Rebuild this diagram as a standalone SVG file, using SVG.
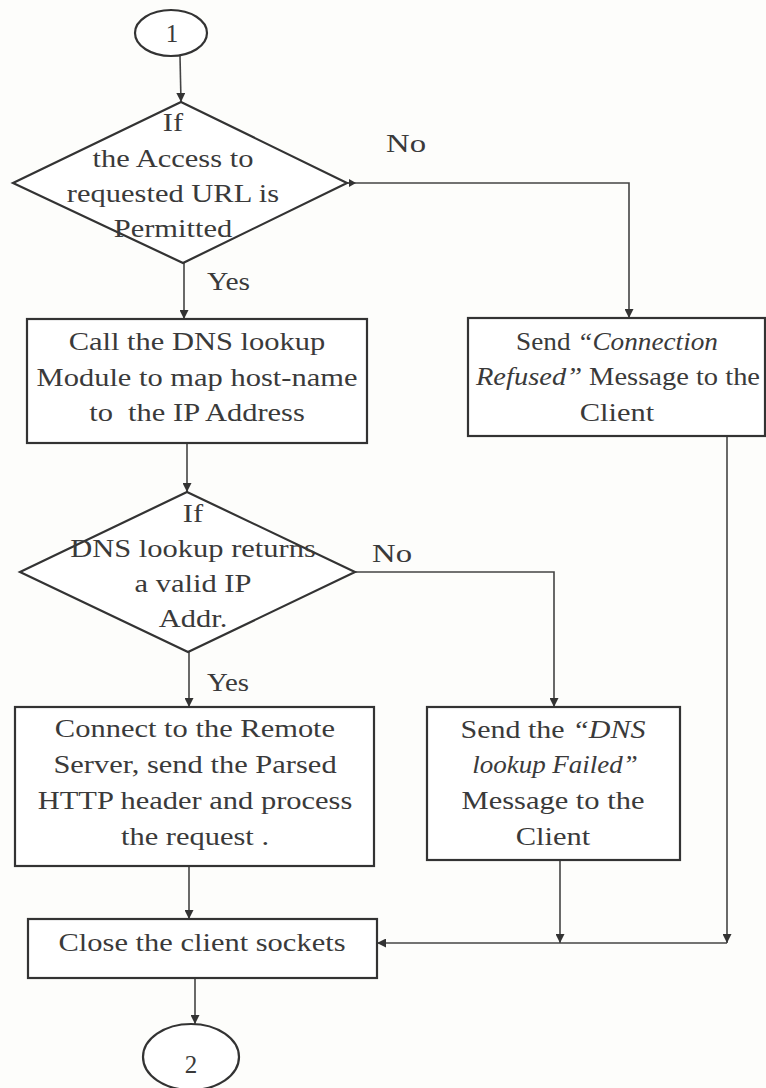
<svg xmlns="http://www.w3.org/2000/svg" width="766" height="1088" viewBox="0 0 766 1088">
  <defs>
    <marker id="arrow" viewBox="0 0 10 10" refX="10" refY="5" markerWidth="9" markerHeight="9" markerUnits="userSpaceOnUse" orient="auto">
      <path d="M0,0 L10,5 L0,10 z" fill="#333"/>
    </marker>
    <style>
      .shape { fill: #fff; stroke: #333; stroke-width: 2.2; }
      .edge { fill: none; stroke: #444; stroke-width: 1.6; }
      .t { font-family: "Liberation Serif", "Times New Roman", serif; font-size: 25px; fill: #3a3a3a; text-anchor: middle; }
      .lbl { font-family: "Liberation Serif", "Times New Roman", serif; font-size: 25px; fill: #3a3a3a; }
      .i { font-style: italic; }
    </style>
  </defs>

  <rect width="766" height="1088" fill="#fdfdfb"/>

  <!-- connectors -->
  <g id="connectors">
    <line class="edge" x1="180" y1="56" x2="181" y2="102" marker-end="url(#arrow)"/>
    <polyline class="edge" points="347,183 629,183 629,318" marker-end="url(#arrow)"/>
    <path d="M349,179 L356,183 L349,187 z" fill="#333"/>
    <line class="edge" x1="184" y1="263" x2="184" y2="319" marker-end="url(#arrow)"/>
    <line class="edge" x1="187" y1="443" x2="187" y2="492" marker-end="url(#arrow)"/>
    <polyline class="edge" points="355,572 554,572 554,707" marker-end="url(#arrow)"/>
    <line class="edge" x1="189" y1="652" x2="189" y2="707" marker-end="url(#arrow)"/>
    <line class="edge" x1="189" y1="866" x2="189" y2="919" marker-end="url(#arrow)"/>
    <line class="edge" x1="560" y1="860" x2="560" y2="943" marker-end="url(#arrow)"/>
    <line class="edge" x1="727" y1="436" x2="727" y2="943" marker-end="url(#arrow)"/>
    <line class="edge" x1="727" y1="943" x2="377" y2="943" marker-end="url(#arrow)"/>
    <line class="edge" x1="195" y1="978" x2="195" y2="1024" marker-end="url(#arrow)"/>
    <text class="lbl" x="386" y="152" textLength="40" lengthAdjust="spacingAndGlyphs">No</text>
    <text class="lbl" x="207" y="290" textLength="43" lengthAdjust="spacingAndGlyphs">Yes</text>
    <text class="lbl" x="372" y="562" textLength="40" lengthAdjust="spacingAndGlyphs">No</text>
    <text class="lbl" x="207" y="691" textLength="42" lengthAdjust="spacingAndGlyphs">Yes</text>
  </g>

  <!-- start connector 1 -->
  <g id="start">
    <ellipse class="shape" cx="171" cy="33" rx="36" ry="23"/>
    <text class="t" x="172" y="42">1</text>
  </g>

  <!-- access check -->
  <g id="access-check">
    <polygon class="shape" points="181,102 347,183 183,263 13,183"/>
    <g transform="translate(173 0) scale(1.22 1)">
      <text class="t" x="0" y="131">If</text>
      <text class="t" x="0" y="167">the Access to</text>
      <text class="t" x="0" y="202">requested URL is</text>
      <text class="t" x="0" y="237">Permitted</text>
    </g>
  </g>

  <!-- DNS lookup call -->
  <g id="dns-call">
    <rect class="shape" x="27" y="319" width="340" height="124"/>
    <g transform="translate(197 0) scale(1.22 1)">
      <text class="t" x="0" y="350">Call the DNS lookup</text>
      <text class="t" x="0" y="386">Module to map host-name</text>
      <text class="t" x="0" y="421" xml:space="preserve">to  the IP Address</text>
    </g>
  </g>

  <!-- connection refused -->
  <g id="conn-refused">
    <rect class="shape" x="468" y="318" width="297" height="118"/>
    <g transform="translate(617 0) scale(1.09 1)">
      <text class="t" x="0" y="350">Send <tspan class="i">“Connection</tspan></text>
    </g>
    <g transform="translate(618 0) scale(1.14 1)">
      <text class="t" x="0" y="385"><tspan class="i">Refused”</tspan> Message to the</text>
    </g>
    <g transform="translate(617 0) scale(1.22 1)">
      <text class="t" x="0" y="421">Client</text>
    </g>
  </g>

  <!-- DNS result check -->
  <g id="dns-check">
    <polygon class="shape" points="187,492 355,572 188,652 20,572"/>
    <g transform="translate(193 0) scale(1.22 1)">
      <text class="t" x="0" y="522">If</text>
      <text class="t" x="0" y="557">DNS lookup returns</text>
      <text class="t" x="0" y="592">a valid IP</text>
      <text class="t" x="0" y="627">Addr.</text>
    </g>
  </g>

  <!-- connect and process -->
  <g id="connect">
    <rect class="shape" x="15" y="707" width="359" height="159"/>
    <g transform="translate(195 0) scale(1.22 1)">
      <text class="t" x="0" y="737">Connect to the Remote</text>
      <text class="t" x="0" y="773">Server, send the Parsed</text>
      <text class="t" x="0" y="809">HTTP header and process</text>
      <text class="t" x="0" y="845">the request .</text>
    </g>
  </g>

  <!-- DNS failed -->
  <g id="dns-failed">
    <rect class="shape" x="427" y="707" width="253" height="153"/>
    <g transform="translate(553 0) scale(1.2 1)">
      <text class="t" x="0" y="738">Send the <tspan class="i">“DNS</tspan></text>
    </g>
    <g transform="translate(555 0) scale(1.08 1)">
      <text class="t i" x="0" y="773">lookup Failed”</text>
    </g>
    <g transform="translate(553 0) scale(1.22 1)">
      <text class="t" x="0" y="809">Message to the</text>
      <text class="t" x="0" y="845">Client</text>
    </g>
  </g>

  <!-- close sockets -->
  <g id="close">
    <rect class="shape" x="28" y="919" width="349" height="59"/>
    <g transform="translate(202 0) scale(1.22 1)">
      <text class="t" x="0" y="951">Close the client sockets</text>
    </g>
  </g>

  <!-- end connector 2 -->
  <g id="end">
    <ellipse class="shape" cx="191" cy="1057" rx="48" ry="33"/>
    <text class="t" x="191" y="1073">2</text>
  </g>
</svg>
